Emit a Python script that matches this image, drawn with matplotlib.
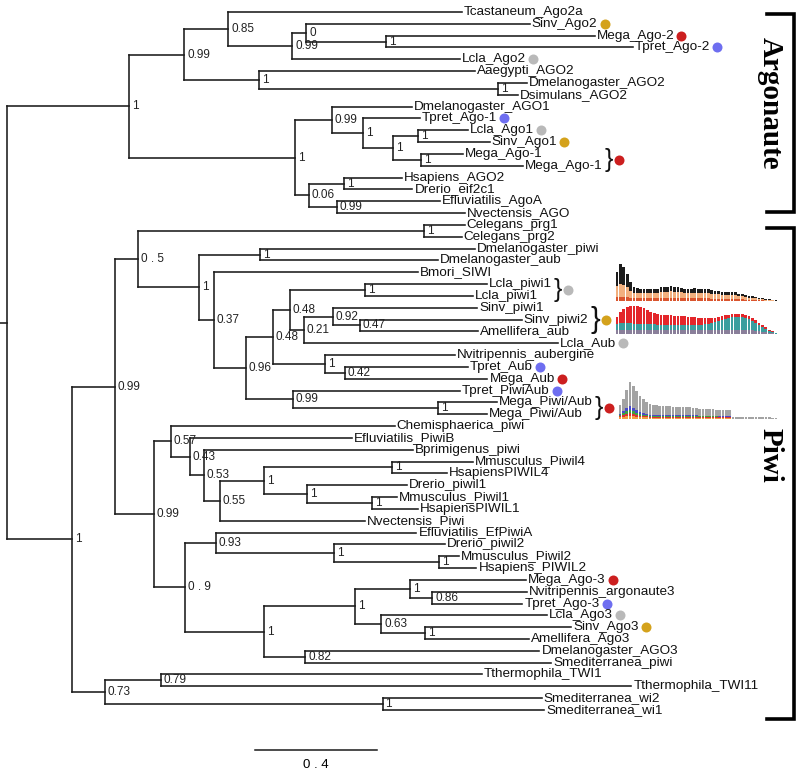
import matplotlib
matplotlib.use("Agg")
import matplotlib.pyplot as plt
from matplotlib.collections import LineCollection

plt.rcParams['font.family'] = ['Liberation Sans', 'DejaVu Sans']

# tree (newick, branch lengths in substitutions/site, node labels = support)
ARGONAUTE = ("(((Tcastaneum_Ago2a:0.765,((Sinv_Ago2:0.732,(Mega_Ago-2:0.683,Tpret_Ago-2:0.807)1:0.261)0:0.046,"
             "Lcla_Ago2:0.549)0.99:0.209)0.85:0.144,(Aaegypti_AGO2:0.706,(Dmelanogaster_AGO2:0.095,"
             "Dsimulans_AGO2:0.065)1:0.781)1:0.245)0.99:0.180,((Dmelanogaster_AGO1:0.261,(Tpret_Ago-1:0.186,"
             "((Lcla_Ago1:0.163,Sinv_Ago1:0.235)1:0.082,(Mega_Ago-1:0.137,Mega_Ago-1:0.333)1:0.092)1:0.098)1:0.101)0.99:0.121,"
             "((Hsapiens_AGO2:0.190,Drerio_eif2c1:0.225)1:0.114,(Efluviatilis_AgoA:0.337,Nvectensis_AGO:0.418)0.99:0.092)0.06:0.046)1:0.542)1:0.399")
PIWI = ("((((Celegans_prg1:0.134,Celegans_prg2:0.124)1:0.935,((Dmelanogaster_piwi:0.703,Dmelanogaster_aub:0.582)1:0.199,"
        "(Bmori_SIWI:0.667,((((Lcla_piwi1:0.399,Lcla_piwi1:0.353)1:0.245,((Sinv_piwi1:0.471,(Sinv_piwi2:0.529,"
        "Amellifera_aub:0.386)0.47:0.088)0.92:0.095,Lcla_Aub:0.830)0.21:0.046)0.48:0.056,(Nvitripennis_aubergine:0.425,"
        "(Tpret_Aub:0.402,Mega_Aub:0.467)0.42:0.065)1:0.170)0.48:0.088,(Tpret_PiwiAub:0.546,(Mega_Piwi/Aub:0.193,"
        "Mega_Piwi/Aub:0.160)1:0.474)0.99:0.154)0.96:0.105)0.37:0.049)1:0.199)0 . 5:0.075,((Chemisphaerica_piwi:0.732,"
        "(Efluviatilis_PiwiB:0.529,(Bprimigenus_piwi:0.683,(((Mmusculus_Piwil4:0.265,HsapiensPIWIL4:0.180)1:0.418,"
        "(Drerio_piwil1:0.327,(Mmusculus_Piwil1:0.082,HsapiensPIWIL1:0.150)1:0.212)1:0.141)1:0.144,"
        "Nvectensis_Piwi:0.474)0.55:0.052)0.53:0.046)0.43:0.062)0.57:0.056,((Efluviatilis_EfPiwiA:0.657,"
        "(Drerio_piwil2:0.363,(Mmusculus_Piwil2:0.065,Hsapiens_PIWIL2:0.121)1:0.346)1:0.386)0.93:0.101,"
        "(((Mega_Ago-3:0.379,(Nvitripennis_argonaute3:0.310,Tpret_Ago-3:0.294)0.86:0.072)1:0.180,(Lcla_Ago3:0.542,"
        "(Sinv_Ago3:0.477,Amellifera_Ago3:0.340)1:0.144)0.63:0.085)1:0.297,(Dmelanogaster_AGO3:0.765,"
        "Smediterranea_piwi:0.804)0.82:0.134)1:0.261)0 . 9:0.101)0.99:0.127)0.99:0.141,((Tthermophila_TWI1:1.049,"
        "Tthermophila_TWI11:1.539)0.79:0.183,(Smediterranea_wi2:0.520,Smediterranea_wi1:0.529)1:0.908)0.73:0.108)1:0.212")

SCALE_LEN = 0.4

COLORS = {'Sinv': '#d4a21c', 'Mega': '#cc1f1f', 'Tpret': '#6e6ef0', 'Lcla': '#b9b9b9'}
# single dots by leaf index, braces over leaf ranges
DOTS = [(1, 'Sinv'), (2, 'Mega'), (3, 'Tpret'), (4, 'Lcla'), (9, 'Tpret'), (10, 'Lcla'), (11, 'Sinv'),
        (28, 'Lcla'), (30, 'Tpret'), (31, 'Mega'), (32, 'Tpret'), (48, 'Mega'), (50, 'Tpret'),
        (51, 'Lcla'), (52, 'Sinv')]
BRACES = [(12, 13, 'Mega'), (23, 24, 'Lcla'), (25, 27, 'Sinv'), (33, 34, 'Mega')]

# small read-length profiles next to the piRNA groups
lcla_red = [4, 4, 4, 4, 3, 3, 3, 3, 3, 3, 3, 3,
            3, 3, 3, 3, 3, 3, 3, 3, 3, 3, 3, 3,
            3, 3, 3, 3, 2, 2, 2, 2, 2, 2, 2, 2,
            2, 2, 1, 1, 1, 1, 1, 1, 0.5, 0.5, 0.5, 0.5]
lcla_orange = [11, 13, 12, 10, 7, 5, 5, 5, 5, 5, 5, 5,
               5, 6, 6, 6, 7, 6, 6, 6, 5, 5, 5, 5,
               5, 5, 5, 5, 5, 5, 5, 4, 4, 4, 4, 4,
               3, 3, 3, 2, 2, 2, 1, 1, 1, 0.5, 0.5, 0]
lcla_black = [14, 20, 18, 13, 9, 6, 5, 4, 4, 4, 4, 4,
              4, 5, 5, 5, 5, 5, 5, 4, 4, 4, 4, 5,
              4, 4, 4, 4, 4, 3, 3, 3, 3, 3, 3, 3,
              2, 2, 2, 2, 2, 1, 1, 1, 1, 1, 0.5, 0.5]

sinv_purple = [4, 4, 4, 4, 4, 4, 4, 4, 4, 4, 4, 4,
               4, 4, 4, 4, 4, 4, 4, 4, 4, 4, 4, 4,
               4, 4, 4, 4, 4, 4, 4, 4, 4, 4, 4, 4,
               4, 4, 4, 4, 4, 3, 3, 2, 2, 1, 1, 0.5]
sinv_teal = [6, 7, 7, 7, 7, 6, 6, 6, 6, 6, 6, 6,
             5, 5, 5, 5, 5, 5, 5, 5, 5, 5, 5, 5,
             5, 5, 6, 6, 7, 8, 9, 10, 11, 12, 13, 13,
             13, 13, 12, 11, 9, 8, 6, 5, 3, 2, 1, 0.5]
sinv_red = [7, 11, 14, 16, 17, 18, 18, 17, 16, 14, 12, 11,
            11, 10, 10, 10, 10, 9, 9, 9, 9, 8, 8, 8,
            7, 7, 6, 6, 5, 4, 4, 4, 4, 3, 3, 3,
            3, 3, 3, 3, 3, 3, 2, 2, 2, 1, 1, 0]

mega_orange = [2, 2, 3, 3, 3, 2, 2, 2, 2, 1, 1, 1,
               1, 1, 1, 1, 1, 1, 1, 1, 1, 1, 1, 1,
               1, 1, 1, 1, 1, 1, 1, 1, 1, 1, 0.5, 0.5,
               0.5, 0.5, 0.5, 0.5, 0.5, 0.5, 0.5, 0.5, 0.5, 0.5, 0.5, 0.5]
mega_red = [1, 2, 2, 3, 2, 2, 1, 1, 1, 1, 1, 1,
            1, 1, 1, 1, 1, 1, 1, 1, 1, 1, 1, 1,
            1, 1, 1, 1, 1, 1, 1, 1, 1, 1, 0, 0,
            0, 0, 0, 0, 0, 0, 0, 0, 0, 0, 0, 0]
mega_green = [1, 2, 3, 3, 3, 2, 2, 1, 1, 1, 1, 1,
              1, 1, 1, 1, 1, 1, 1, 1, 1, 1, 1, 1,
              1, 1, 1, 1, 1, 1, 0.5, 0.5, 0.5, 0.5, 0, 0,
              0, 0, 0, 0, 0, 0, 0, 0, 0, 0, 0, 0]
mega_blue = [1, 2, 3, 4, 3, 3, 2, 2, 1, 1, 1, 1,
             1, 1, 1, 1, 1, 1, 1, 1, 1, 1, 1, 1,
             0.5, 0.5, 0.5, 0.5, 0.5, 0.5, 0.5, 0.5, 0.5, 0.5, 0, 0,
             0, 0, 0, 0, 0, 0, 0, 0, 0, 0, 0, 0]
mega_gray = [9, 12, 18, 24, 22, 19, 16, 14, 12, 11, 10, 10,
             9, 9, 9, 9, 8, 8, 8, 8, 8, 8, 7, 7,
             7, 7, 7, 7, 7, 6, 6, 6, 6, 6, 2, 2,
             2, 2, 1.5, 1.5, 1.5, 1.5, 1.5, 1.5, 1.5, 1.5, 1, 1]


def parse_newick(s):
    pos = 0

    def node():
        nonlocal pos
        kids = []
        if s[pos] == '(':
            pos += 1
            kids.append(node())
            while s[pos] == ',':
                pos += 1
                kids.append(node())
            pos += 1
        start = pos
        while pos < len(s) and s[pos] not in ':,();':
            pos += 1
        label = s[start:pos].strip()
        length = 0.0
        if pos < len(s) and s[pos] == ':':
            pos += 1
            start = pos
            while s[pos] not in ',();':
                pos += 1
            length = float(s[start:pos])
        return {'label': label, 'length': length, 'children': kids}

    return node()


tree = parse_newick("(" + ARGONAUTE + "," + PIWI + ");")
leaves = []


def layout(n, x0):
    n['x'] = x0 + n['length']
    if not n['children']:
        n['y'] = len(leaves)
        leaves.append(n)
    else:
        for c in n['children']:
            layout(c, n['x'])
        n['y'] = (n['children'][0]['y'] + n['children'][-1]['y']) / 2


layout(tree, 0.0)

# pixel helpers for the 800x778 canvas
PX = 305.8        # pixels per unit branch length
X0 = 7            # root position
ROW = 11.83       # pixels per leaf row
Y0 = 12


def dx(px):
    return px / PX


def px2x(px):
    return (px - X0) / PX


def px2y(py):
    return (py - Y0) / ROW


fig = plt.figure(figsize=(8, 7.78), dpi=100)
ax = fig.add_axes([0, 0, 1, 1])
ax.set_xlim(px2x(0), px2x(800))
ax.set_ylim(px2y(778), px2y(0))
ax.axis('off')

segs = []
tip_texts = []


def draw(n, is_root=False):
    kids = n['children']
    if kids:
        segs.append([(n['x'], kids[0]['y']), (n['x'], kids[-1]['y'])])
        for c in kids:
            segs.append([(n['x'], c['y']), (c['x'], c['y'])])
            draw(c)
        if n['label'] and not is_root:
            ax.text(n['x'] + dx(3), n['y'], n['label'], fontsize=8.5, va='center', ha='left', color='#222222')
    else:
        t = ax.text(n['x'] + dx(2), n['y'], n['label'], fontsize=9.7, va='center', ha='left', color='#111111')
        tip_texts.append(t)


draw(tree, is_root=True)
segs.append([(tree['x'] - dx(7), tree['y']), (tree['x'], tree['y'])])
ax.add_collection(LineCollection(segs, colors='#1a1a1a', linewidths=1.15, capstyle='projecting'))

# scale bar
sx = px2x(255)
ax.plot([sx, sx + SCALE_LEN], [px2y(750), px2y(750)], color='#1a1a1a', lw=1.1)
ax.text(sx + SCALE_LEN / 2, px2y(765), "0 . 4", ha='center', va='center', fontsize=9.5)

# clade brackets
for name, top, bot, ymid in [("Argonaute", 14, 212, 103), ("Piwi", 228, 719, 455)]:
    ax.plot([px2x(767), px2x(794), px2x(794), px2x(767)],
            [px2y(top), px2y(top), px2y(bot), px2y(bot)], color='black', lw=2.6,
            solid_joinstyle='miter')
    ax.text(px2x(770), px2y(ymid), name, rotation=270, ha='center', va='center',
            fontsize=21, fontweight='bold', family='Liberation Serif')

fig.canvas.draw()
rend = fig.canvas.get_renderer()
inv = ax.transData.inverted()


def right_edge(t):
    bb = t.get_window_extent(rend)
    return inv.transform((bb.x1, bb.y0))[0]


for i, key in DOTS:
    xe = right_edge(tip_texts[i])
    ax.plot(xe + dx(7), i, 'o', color=COLORS[key], ms=7.2, mec='none')

for a, b, key in BRACES:
    xe = max(right_edge(tip_texts[k]) for k in range(a, b + 1))
    ym = (a + b) / 2
    size = 18 if b - a == 1 else 21
    br = ax.text(xe + dx(2), ym, "}", fontsize=size, va='center', ha='left', color='#111111')
    fig.canvas.draw()
    xb = right_edge(br)
    ax.plot(xb + dx(6), ym, 'o', color=COLORS[key], ms=7.2, mec='none')


def profile(box, layers, colors):
    left, top, right, bot = box
    iax = fig.add_axes([left / 800, 1 - bot / 778, (right - left) / 800, (bot - top) / 778])
    n = len(layers[0])
    base = [0] * n
    for vals, c in zip(layers, colors):
        iax.bar(range(n), vals, bottom=base, width=0.8, color=c, linewidth=0)
        base = [b + v for b, v in zip(base, vals)]
    iax.set_xlim(-0.6, n - 0.4)
    iax.set_ylim(0, bot - top)
    iax.axis('off')


profile((615, 263, 778, 301), [lcla_red, lcla_orange, lcla_black], ['#d9552e', '#f2b07e', '#1c1c1c'])
profile((615, 305, 778, 334), [sinv_purple, sinv_teal, sinv_red], ['#8a7f9a', '#3a9e9e', '#e3262a'])
profile((618, 382, 778, 419), [mega_orange, mega_red, mega_green, mega_blue, mega_gray],
        ['#f0a040', '#e03030', '#3fa03f', '#4a4ac8', '#a3a3a3'])

fig.savefig("out.png", dpi=100)
